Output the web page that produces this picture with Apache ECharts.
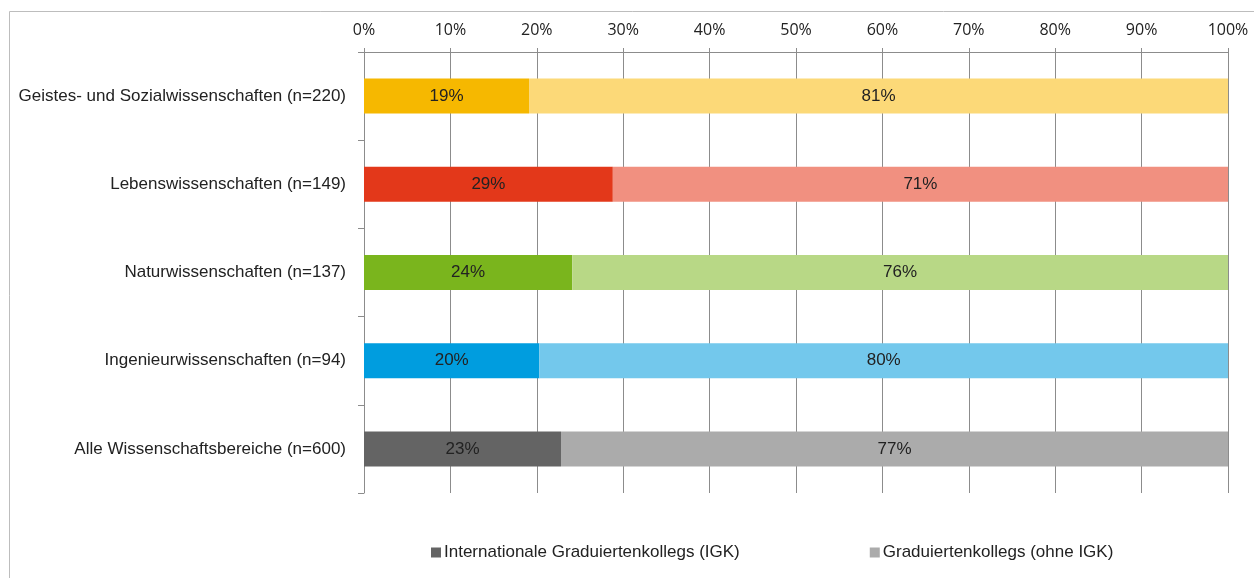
<!DOCTYPE html>
<html>
<head>
<meta charset="utf-8">
<script src="https://cdn.jsdelivr.net/npm/echarts@6/dist/echarts.min.js"></script>
<style>
  html, body { margin: 0; padding: 0; background: #fff; }
  #main { width: 1254px; height: 578px; }
</style>
</head>
<body>
<div id="main"></div>
<script>
const categories = [
  "Geistes- und Sozialwissenschaften (n=220)",
  "Lebenswissenschaften (n=149)",
  "Naturwissenschaften (n=137)",
  "Ingenieurwissenschaften (n=94)",
  "Alle Wissenschaftsbereiche (n=600)"
];
const igk = [19.1, 28.8, 24.1, 20.3, 22.8];
const ohneIgk = [80.9, 71.2, 75.9, 79.7, 77.2];
const darkColors = ["#F6B800", "#E3381A", "#7AB51D", "#009DDF", "#646464"];
const lightColors = ["#FCD978", "#F19080", "#B8D886", "#73C8EC", "#ABABAB"];
const seriesNames = ["Internationale Graduiertenkollegs (IGK)", "Graduiertenkollegs (ohne IGK)"];

const labelFont = "'Liberation Sans Narrow', 'Arial Narrow', 'Liberation Sans', sans-serif";

const chart = echarts.init(document.getElementById("main"));

function barData(values, colors) {
  return values.map((v, i) => ({ value: v, itemStyle: { color: colors[i] } }));
}

const barLabel = {
  show: true,
  position: "inside",
  color: "#222",
  fontSize: 17,
  fontFamily: labelFont,
  formatter: (p) => Math.round(p.value) + "%"
};

chart.setOption({
  animation: false,
  graphic: [{
    type: "rect",
    shape: { x: 9.5, y: 11.5, width: 1260, height: 600 },
    style: { fill: "none", stroke: "#bdbdbd", lineWidth: 1 },
    silent: true
  }],
  grid: { left: 364, right: 26, top: 52, bottom: 85 },
  legend: {
    bottom: 12,
    left: 426,
    itemGap: 130,
    itemWidth: 10,
    itemHeight: 10,
    icon: "rect",
    textStyle: { fontSize: 17, fontFamily: labelFont, color: "#222", padding: [0, 0, 0, -2] },
    data: seriesNames
  },
  xAxis: {
    type: "value",
    position: "top",
    min: 0,
    max: 100,
    interval: 10,
    axisLine: { show: true, lineStyle: { color: "#8c8c8c" } },
    axisTick: { show: true, length: 4, lineStyle: { color: "#8c8c8c" } },
    splitLine: { show: true, lineStyle: { color: "#8c8c8c" } },
    axisLabel: {
      formatter: "{value}%",
      color: "#222",
      fontSize: 16,
      fontFamily: "'Open Sans', 'Noto Sans', sans-serif",
      margin: 14
    }
  },
  yAxis: {
    type: "category",
    inverse: true,
    data: categories,
    axisLine: { show: true, lineStyle: { color: "#8c8c8c" } },
    axisTick: { show: true, length: 6, lineStyle: { color: "#8c8c8c" } },
    axisLabel: {
      color: "#222",
      fontSize: 17,
      fontFamily: labelFont,
      margin: 18
    }
  },
  series: [
    {
      name: seriesNames[0],
      type: "bar",
      stack: "total",
      barWidth: 35,
      itemStyle: { color: "#646464" },
      label: barLabel,
      data: barData(igk, darkColors)
    },
    {
      name: seriesNames[1],
      type: "bar",
      stack: "total",
      barWidth: 35,
      itemStyle: { color: "#ABABAB" },
      label: barLabel,
      data: barData(ohneIgk, lightColors)
    }
  ]
});
</script>
</body>
</html>
